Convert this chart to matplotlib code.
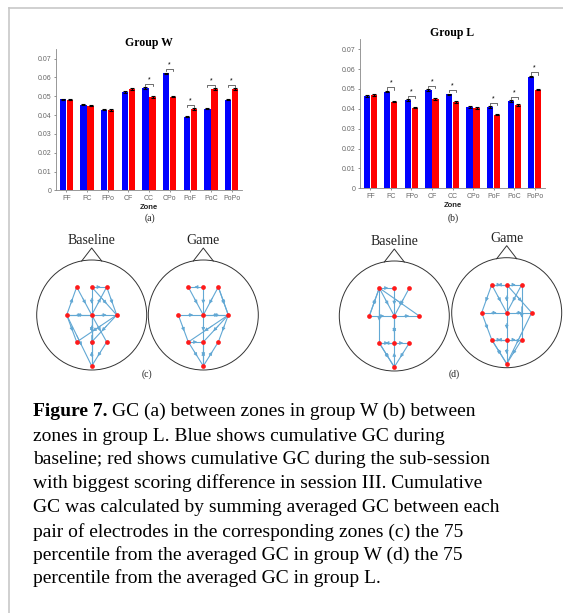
import numpy as np
import matplotlib.pyplot as plt
from matplotlib.patches import Circle

zones = ['FF', 'FC', 'FPo', 'CF', 'CC', 'CPo', 'PoF', 'PoC', 'PoPo']

# group W: baseline (blue) vs game sub-session (red)
w_base = [0.0484, 0.0456, 0.0429, 0.0523, 0.0544, 0.0622, 0.0392, 0.0434, 0.0482]
w_game = [0.0482, 0.0450, 0.0427, 0.0539, 0.0495, 0.0498, 0.0433, 0.0539, 0.0539]
w_sig = ['CC', 'CPo', 'PoF', 'PoC', 'PoPo']

# group L
l_base = [0.0466, 0.0487, 0.0443, 0.0495, 0.0473, 0.0408, 0.0408, 0.0440, 0.0562]
l_game = [0.0470, 0.0436, 0.0406, 0.0450, 0.0435, 0.0403, 0.0371, 0.0419, 0.0497]
l_sig = ['FC', 'FPo', 'CF', 'CC', 'PoF', 'PoC', 'PoPo']

yticks = [0, 0.01, 0.02, 0.03, 0.04, 0.05, 0.06, 0.07]

# electrode montage (units: px offset from head centre)
montage = {'F3': (-15, -28), 'Fz': (0, -28), 'F4': (15, -28),
           'C3': (-25, 0), 'Cz': (0, 0), 'C4': (25, 0),
           'P3': (-15, 27), 'Pz': (0, 27), 'P4': (15, 27),
           'Oz': (0, 51)}

# directed GC links above 75th percentile
w_base_edges = [('C3', 'F3'), ('F3', 'Cz'), ('Fz', 'F4'), ('Fz', 'Cz'), ('Cz', 'F4'),
                ('F4', 'C4'), ('Fz', 'C4'), ('C3', 'Cz'), ('Cz', 'C3'), ('Cz', 'C4'),
                ('C3', 'P3'), ('C3', 'Oz'), ('Cz', 'Pz'), ('Pz', 'Cz'), ('Cz', 'P4'),
                ('C4', 'Pz'), ('C4', 'P3'), ('P4', 'Oz'), ('Oz', 'Pz'), ('Cz', 'Oz')]
w_game_edges = [('Fz', 'F3'), ('Fz', 'Cz'), ('F3', 'Cz'), ('F4', 'Cz'), ('F4', 'C4'),
                ('C4', 'F4'), ('C3', 'Cz'), ('Cz', 'C4'), ('C4', 'Cz'), ('C3', 'P3'),
                ('Cz', 'Pz'), ('C4', 'P3'), ('C4', 'Pz'), ('C4', 'P4'), ('P3', 'Oz'),
                ('Pz', 'Oz'), ('Oz', 'P4'), ('P3', 'Pz'), ('Oz', 'Pz')]
l_base_edges = [('F3', 'Fz'), ('F3', 'C3'), ('C3', 'F3'), ('F3', 'Cz'), ('F3', 'P3'),
                ('F4', 'Cz'), ('Fz', 'Cz'), ('F3', 'C4'), ('C3', 'Cz'), ('Cz', 'C4'),
                ('Cz', 'Pz'), ('Pz', 'Cz'), ('P3', 'Pz'), ('Pz', 'P3'), ('Pz', 'P4'),
                ('P3', 'Oz'), ('Oz', 'Pz'), ('P4', 'Oz'), ('Oz', 'P3')]
l_game_edges = [('F3', 'Fz'), ('Fz', 'F3'), ('Fz', 'F4'), ('F3', 'C3'), ('F3', 'Cz'),
                ('Fz', 'Cz'), ('F4', 'Cz'), ('F4', 'P4'), ('Fz', 'C4'), ('C3', 'Cz'),
                ('Cz', 'C4'), ('C3', 'P3'), ('Cz', 'Pz'), ('P3', 'Pz'), ('Pz', 'P3'),
                ('Pz', 'P4'), ('P3', 'Oz'), ('Oz', 'P3'), ('Pz', 'Oz'), ('P4', 'Oz'),
                ('C4', 'Oz')]

caption = ["GC (a) between zones in group W (b) between",
           "zones in group L. Blue shows cumulative GC during",
           "baseline; red shows cumulative GC during the sub-session",
           "with biggest scoring difference in session III. Cumulative",
           "GC was calculated by summing averaged GC between each",
           "pair of electrodes in the corresponding zones (c) the 75",
           "percentile from the averaged GC in group W (d) the 75",
           "percentile from the averaged GC in group L."]

W, H = 563, 613
fig = plt.figure(figsize=(W / 100, H / 100), dpi=100)
fig.patch.set_facecolor('white')

serif = 'Liberation Serif'
sans = 'Liberation Sans'
edge_col = '#62a8d4'


def bar_panel(rect, base, game, sig, title):
    ax = fig.add_axes(rect)
    x = np.arange(1, len(zones) + 1)
    err = 0.0004
    ax.bar(x - 0.17, base, 0.3, color='#0000ff', yerr=err, capsize=1.2,
           error_kw=dict(ecolor='black', elinewidth=0.8, capthick=0.8))
    ax.bar(x + 0.17, game, 0.3, color='#ff0000', yerr=err, capsize=1.2,
           error_kw=dict(ecolor='black', elinewidth=0.8, capthick=0.8))
    for z in sig:
        i = zones.index(z)
        top = max(base[i], game[i]) + 0.0022
        xs = [x[i] - 0.17, x[i] - 0.17, x[i] + 0.17, x[i] + 0.17]
        ys = [top - 0.0012, top, top, top - 0.0012]
        ax.plot(xs, ys, color='#333333', lw=0.5)
        ax.text(x[i], top + 0.0003, '*', ha='center', va='bottom', fontsize=5,
                family=sans)
    ax.set_xlim(0.5, 9.5)
    ax.set_ylim(0, 0.075)
    ax.set_xticks(x)
    ax.set_xticklabels(zones)
    ax.set_yticks(yticks)
    ax.set_yticklabels(['0'] + ['%.2f' % v for v in yticks[1:]])
    for s in ['top', 'right']:
        ax.spines[s].set_visible(False)
    for s in ['left', 'bottom']:
        ax.spines[s].set_color('#888888')
        ax.spines[s].set_linewidth(0.6)
    ax.tick_params(labelsize=5, colors='#666666', length=1.5, width=0.5, pad=2)
    for lab in ax.get_xticklabels() + ax.get_yticklabels():
        lab.set_family(sans)
    ax.set_xlabel('Zone', fontsize=5.5, family=sans, fontweight='bold',
                  color='#222222', labelpad=1)
    ax.set_title(title, fontsize=8.5, family=serif, fontweight='bold', pad=2)
    return ax


bar_panel([56 / W, 1 - 190.3 / H, 186 / W, 141 / H], w_base, w_game, w_sig, 'Group W')
bar_panel([360 / W, 1 - 188.3 / H, 185 / W, 149 / H], l_base, l_game, l_sig, 'Group L')

# overlay in pixel coordinates for heads, caption and frame
ov = fig.add_axes([0, 0, 1, 1])
ov.set_xlim(0, W)
ov.set_ylim(H, 0)
ov.axis('off')
ov.patch.set_visible(False)

ov.plot([9, W], [8, 8], color='#c8c8c8', lw=1.2)
ov.plot([9, 9], [8, H], color='#c8c8c8', lw=1.2)


def head(cx, cy, label, edges):
    r = 55
    ov.add_patch(Circle((cx, cy), r, fill=False, ec='#333333', lw=0.7))
    ov.plot([cx - 10, cx, cx + 10], [cy - r + 1, cy - r - 12, cy - r + 1],
            color='#333333', lw=0.7)
    ov.text(cx, cy - r - 16, label, ha='center', va='baseline', fontsize=10,
            family=serif, color='#222222')
    for a, b in edges:
        x0, y0 = cx + montage[a][0], cy + montage[a][1]
        x1, y1 = cx + montage[b][0], cy + montage[b][1]
        ov.plot([x0, x1], [y0, y1], color=edge_col, lw=0.8, zorder=2)
        p0 = (x0 + 0.4 * (x1 - x0), y0 + 0.4 * (y1 - y0))
        p1 = (x0 + 0.6 * (x1 - x0), y0 + 0.6 * (y1 - y0))
        ov.annotate('', xy=p1, xytext=p0,
                    arrowprops=dict(arrowstyle='-|>', color=edge_col, lw=0.6,
                                    mutation_scale=5, shrinkA=0, shrinkB=0),
                    zorder=3)
    ex = [cx + montage[k][0] for k in montage]
    ey = [cy + montage[k][1] for k in montage]
    ov.plot(ex, ey, 'o', color='#ff1a1a', ms=3.4, mec='none', zorder=4)


head(91.7, 315, 'Baseline', w_base_edges)
head(203.3, 315, 'Game', w_game_edges)
head(394.3, 316, 'Baseline', l_base_edges)
head(506.7, 312.7, 'Game', l_game_edges)

for lab, px, py in [('(a)', 150, 218), ('(b)', 453, 218), ('(c)', 146.7, 374), ('(d)', 454, 374)]:
    ov.text(px, py, lab, ha='center', va='center', fontsize=7, family=serif,
            color='#222222')

# caption
fs = 14
baselines = [416, 441, 464, 488, 512, 537, 560, 583]
renderer = fig.canvas.get_renderer()
t = ov.text(33, baselines[0], 'Figure 7.', fontsize=fs, family=serif,
            fontweight='bold', va='baseline')
bb = t.get_window_extent(renderer)
ov.text(33 + bb.width + 4, baselines[0], caption[0], fontsize=fs, family=serif,
        va='baseline')
for line, yb in zip(caption[1:], baselines[1:]):
    ov.text(33, yb, line, fontsize=fs, family=serif, va='baseline')

fig.savefig('out.png', dpi=100)
